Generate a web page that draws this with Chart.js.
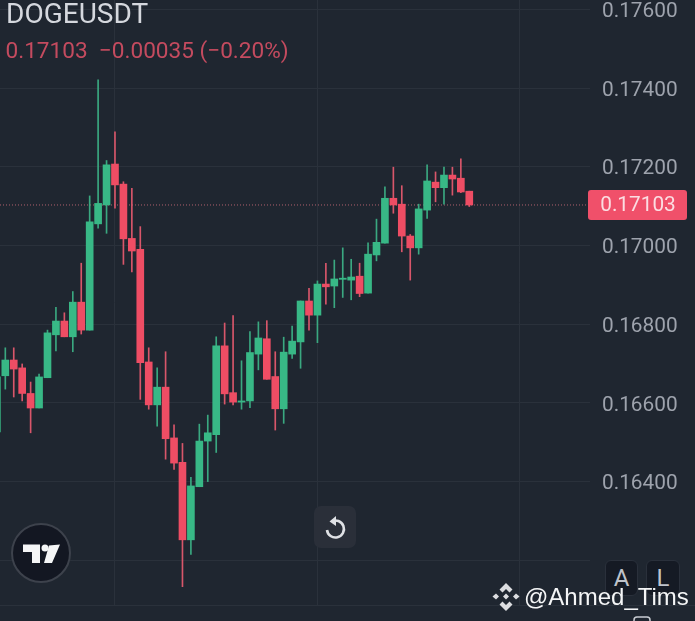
<!DOCTYPE html>
<html>
<head>
<meta charset="utf-8">
<script src="https://cdn.jsdelivr.net/npm/chart.js@4/dist/chart.umd.min.js"></script>
<style>
html,body{margin:0;padding:0;background:#1f2630;width:695px;height:621px;overflow:hidden;font-family:Roboto,sans-serif}
#wrap{position:relative;width:695px;height:621px}
canvas{position:absolute;left:0;top:0}
.t{position:absolute;white-space:nowrap;line-height:1}
#sym{left:6px;top:0px;font-size:28px;color:#d5d8de}
#stat{left:5.500px;top:40px;font-size:22.600px;color:#c44b5f;white-space:pre}
.btn{position:absolute;background:#151a24;border:1px solid #2a303b;border-radius:6px;box-sizing:border-box;color:#bfc3cb;font-size:24px;text-align:center;line-height:35px}
#base{position:absolute;left:0;top:605px;width:695px;height:1px;background:#2a313b}
#mark{left:524px;top:585px;font-family:"Liberation Sans",Arial,sans-serif;font-size:24px;color:#f4f5f6}
svg{position:absolute;overflow:visible}
</style>
</head>
<body>
<div id="wrap">
<canvas id="c" width="695" height="621"></canvas>
<div id="base"></div>
<div class="t" id="sym">DOGEUSDT</div>
<div class="t" id="stat">0.17103  −0.00035 (−0.20%)</div>
<div class="btn" style="left:605px;top:560px;width:33px;height:36px">A</div>
<div class="btn" style="left:646px;top:560px;width:34px;height:36px">L</div>
<svg style="left:0;top:0" width="695" height="621">
  <circle cx="41" cy="553" r="29" fill="#131722" stroke="#3d424c" stroke-width="2"/>
  <path d="M23 544.500H40V563H32V552H23Z M49 545.500 L60 544.500 L52 563 L44 563Z" fill="#f5f6f7"/>
  <circle cx="45" cy="548" r="3.500" fill="#f5f6f7"/>
  <rect x="314" y="506" width="42" height="42" rx="7" fill="#2a2f39"/>
  <path d="M331.500 521.500 A8.500 8.500 0 1 1 327 530" fill="none" stroke="#dfe1e5" stroke-width="2.600"/>
  <path d="M336 516 L329.500 521.500 L336 526Z" fill="#dfe1e5"/>
  <g fill="#dcdde0">
    <path d="M506 583l6.500 6.500-3 3-3.500-3.500-3.500 3.500-3-3z"/>
    <path d="M506 611l-6.500-6.500 3-3 3.500 3.500 3.500-3.500 3 3z"/>
    <path d="M496 593.500l3 3-3 3-3.500-3z"/>
    <path d="M516 593.500l3.500 3-3.500 3-3-3z"/>
    <path d="M506 593.500l3 3-3 3-3-3z"/>
  </g>
  <path d="M634 621v-1a3 3 0 0 1 3-3h10a3 3 0 0 1 3 3v1" fill="none" stroke="#c9ccd2" stroke-width="1.500"/>
</svg>
<div class="t" id="mark">@Ahmed_Tims</div>
</div>
<script>
const candleSlots = [10,11,12,13,14,15,16,17,18,19,20,21,22,23,24,25,26,27,28,29,30,31,32,33,34,35,36,37,38,39,40,41,42,43,44,45,46,47,48,49,50,51,52,53,54,55,56,57,58,59,60,61,62,63,64,65,66];
const opens = [0.16526,0.16669,0.16709,0.16689,0.16624,0.16587,0.16664,0.16773,0.16808,0.16768,0.16856,0.16785,0.17055,0.17103,0.17207,0.17156,0.17018,0.16990,0.16704,0.16595,0.16640,0.16511,0.16449,0.16252,0.16387,0.16503,0.16519,0.16745,0.16626,0.16602,0.16605,0.16724,0.16763,0.16667,0.16585,0.16724,0.16755,0.16859,0.16823,0.16902,0.16897,0.16914,0.16912,0.16922,0.16879,0.16976,0.17006,0.17120,0.17105,0.17024,0.16994,0.17090,0.17161,0.17147,0.17179,0.17171,0.17138];
const closes = [0.16666,0.16709,0.16686,0.16624,0.16587,0.16666,0.16778,0.16808,0.16768,0.16856,0.16785,0.17060,0.17107,0.17205,0.17154,0.17017,0.16986,0.16702,0.16595,0.16640,0.16509,0.16447,0.16252,0.16389,0.16503,0.16524,0.16745,0.16623,0.16602,0.16605,0.16728,0.16765,0.16660,0.16585,0.16729,0.16757,0.16859,0.16823,0.16902,0.16895,0.16915,0.16917,0.16920,0.16878,0.16978,0.17008,0.17120,0.17103,0.17024,0.16994,0.17093,0.17164,0.17147,0.17179,0.17169,0.17136,0.17103];
const highs = [0.16672,0.16740,0.16740,0.16699,0.16653,0.16673,0.16785,0.16843,0.16829,0.16883,0.16955,0.17126,0.17421,0.17216,0.17289,0.17162,0.17145,0.17048,0.16740,0.16689,0.16730,0.16544,0.16497,0.16411,0.16546,0.16569,0.16768,0.16803,0.16822,0.16707,0.16781,0.16806,0.16809,0.16730,0.16767,0.16795,0.16859,0.16891,0.16910,0.16955,0.16963,0.16994,0.16965,0.16955,0.17007,0.17067,0.17149,0.17199,0.17152,0.17028,0.17105,0.17205,0.17187,0.17199,0.17199,0.17220,0.17138];
const lows = [0.16526,0.16635,0.16615,0.16605,0.16524,0.16587,0.16664,0.16732,0.16768,0.16730,0.16775,0.16785,0.17044,0.17031,0.17095,0.16952,0.16933,0.16609,0.16584,0.16541,0.16457,0.16431,0.16133,0.16215,0.16387,0.16400,0.16474,0.16597,0.16595,0.16584,0.16588,0.16684,0.16660,0.16531,0.16548,0.16713,0.16688,0.16785,0.16753,0.16851,0.16842,0.16868,0.16862,0.16870,0.16879,0.16961,0.17006,0.17082,0.16984,0.16912,0.16978,0.17069,0.17111,0.17105,0.17128,0.17134,0.17099];
const priceTicks = [0.162,0.164,0.166,0.168,0.170,0.172,0.174,0.176];
const hiddenPriceLabels = [0.162];
const timeGrid = [24,48,72];
const lastPrice = 0.17103;
const lastLabel = "0.17103";

const UP = "#38b886", DOWN = "#ee4d64", UPW = "#3aa880", DOWNW = "#d8566a";
const isUp = candleSlots.map((_, i) => closes[i] >= opens[i]);
const xMin = 10.37, xMax = 80.31, yMin = 0.160864, yMax = 0.176239;

const tagPlugin = {
  id: "lastTag",
  afterDraw(chart) {
    const y = chart.scales.y.getPixelForValue(lastPrice);
    const c = chart.ctx;
    c.save();
    c.fillStyle = "#f0506a";
    c.beginPath();
    c.roundRect(588, y - 15, 99, 30, 3);
    c.fill();
    c.fillStyle = "#fbdde2";
    c.font = "20.8px Roboto";
    c.textAlign = "center";
    c.textBaseline = "middle";
    c.fillText(lastLabel, 638, y + 1);
    c.restore();
  }
};

new Chart(document.getElementById("c"), {
  type: "bar",
  data: {
    datasets: [
      {
        type: "line",
        data: [{x: xMin, y: lastPrice}, {x: xMax, y: lastPrice}],
        borderColor: "#b0606e",
        borderWidth: 1,
        borderDash: [1, 2],
        pointRadius: 0,
        order: 3
      },
      {
        data: candleSlots.map((x, i) => ({x, y: [lows[i], highs[i]]})),
        backgroundColor: isUp.map(u => u ? UPW : DOWNW),
        barThickness: 1,
        grouped: false,
        order: 2
      },
      {
        data: candleSlots.map((x, i) => ({x, y: [opens[i], closes[i]]})),
        backgroundColor: isUp.map(u => u ? UP : DOWN),
        barThickness: 7,
        minBarLength: 1,
        grouped: false,
        order: 1
      }
    ]
  },
  options: {
    responsive: false,
    animation: false,
    layout: {padding: 0},
    plugins: {legend: {display: false}, tooltip: {enabled: false}, title: {display: false}},
    scales: {
      x: {
        type: "linear",
        min: xMin,
        max: xMax,
        offset: false,
        afterBuildTicks(s) { s.ticks = timeGrid.map(value => ({value})); },
        afterFit(s) { s.height = 16; s.paddingLeft = 0; s.paddingRight = 0; },
        grid: {color: "#2a313b", lineWidth: 1, drawTicks: false, offset: false},
        border: {display: false},
        ticks: {display: false}
      },
      y: {
        type: "linear",
        position: "right",
        min: yMin,
        max: yMax,
        afterBuildTicks(s) { s.ticks = priceTicks.map(value => ({value})); },
        afterFit(s) { s.width = 105; s.paddingTop = 0; s.paddingBottom = 0; },
        grid: {color: "#2a313b", lineWidth: 1, drawTicks: false},
        border: {display: false},
        ticks: {
          color: "#9ea3ad",
          font: {family: "Roboto", size: 20.8},
          padding: 12,
          labelOffset: 2.5,
          crossAlign: "near",
          autoSkip: false,
          callback: v => hiddenPriceLabels.includes(v) ? "" : v.toFixed(5)
        }
      }
    }
  },
  plugins: [tagPlugin]
});
</script>
</body>
</html>
